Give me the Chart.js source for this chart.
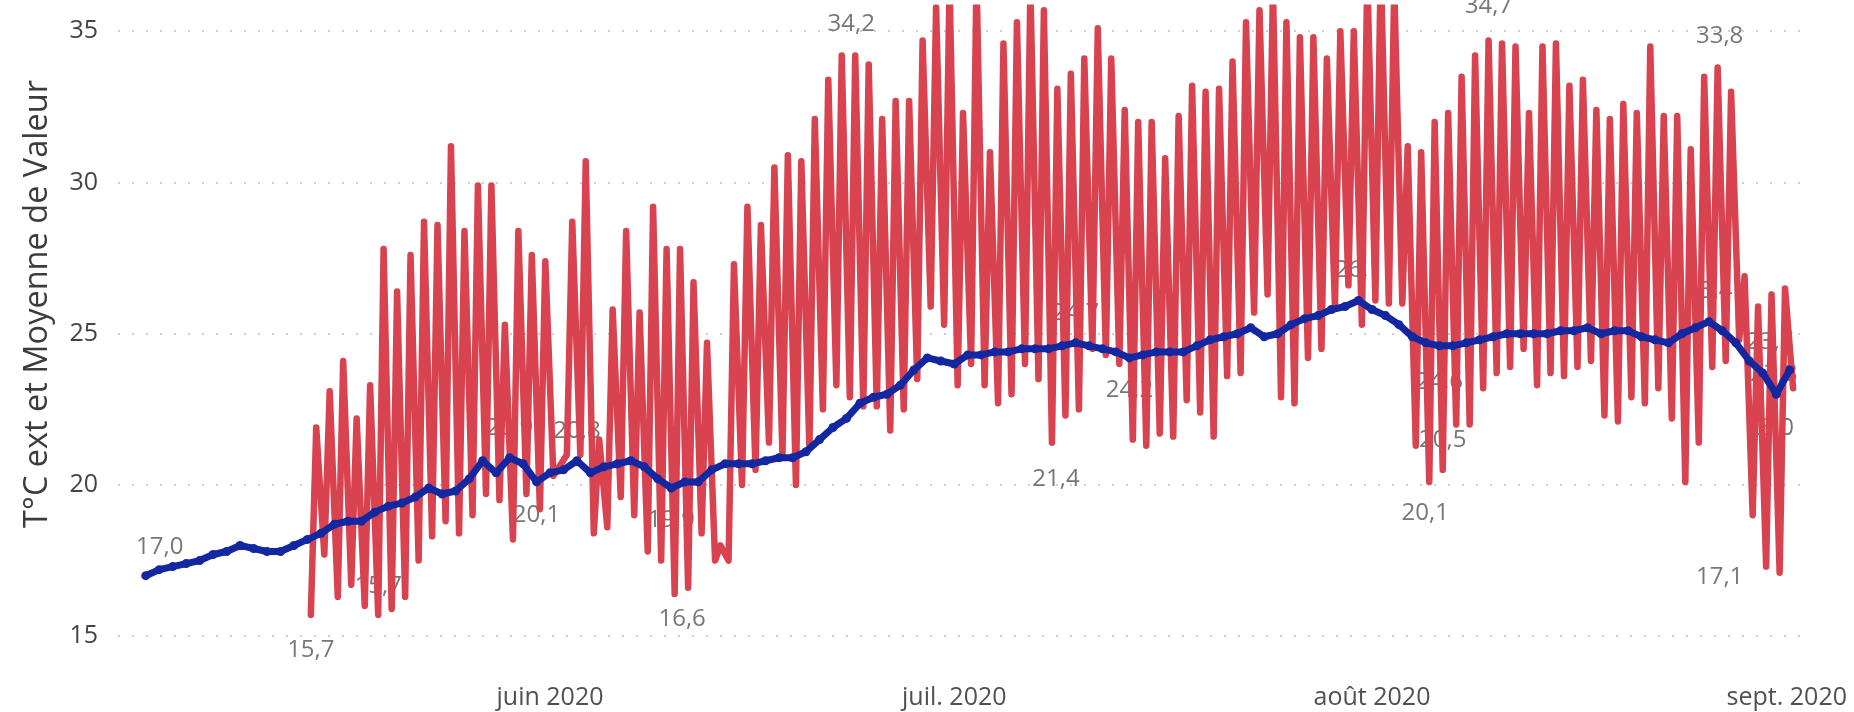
<!DOCTYPE html>
<html>
<head>
<meta charset="utf-8">
<script src="https://cdn.jsdelivr.net/npm/chart.js@4.4.0/dist/chart.umd.min.js"></script>
<style>
html,body{margin:0;padding:0;background:#fff;overflow:hidden}
#wrap{width:1854px;height:712px;position:relative}
</style>
</head>
<body>
<div id="wrap"><canvas id="c" width="1854" height="712"></canvas></div>
<script>
// ---------- DATA ----------
// x axis: days counted from 1 May 2020 (day 0 = 1 May 00:00)
const monthTickDays = [31, 61, 92, 123];
const monthLabels = ['juin 2020', 'juil. 2020', 'août 2020', 'sept. 2020'];
const yTickValues = [15, 20, 25, 30, 35];
const yTitle = 'T°C ext et Moyenne de Valeur';

// "Moyenne de Valeur" : one value per day, starting day 1
const blueStartDay = 1;
const blueValues = [
  17.0,17.2,17.3,17.4,17.5,17.7,17.8,18.0,17.9,17.8,
  17.8,18.0,18.2,18.4,18.7,18.8,18.8,19.1,19.3,19.4,
  19.6,19.9,19.7,19.8,20.2,20.8,20.4,20.9,20.7,20.1,
  20.4,20.5,20.8,20.4,20.6,20.7,20.8,20.6,20.2,19.9,
  20.1,20.1,20.5,20.7,20.7,20.7,20.8,20.9,20.9,21.1,
  21.5,21.9,22.2,22.7,22.9,23.0,23.3,23.8,24.2,24.1,
  24.0,24.3,24.3,24.4,24.4,24.5,24.5,24.5,24.6,24.7,
  24.6,24.5,24.4,24.2,24.3,24.4,24.4,24.4,24.6,24.8,
  24.9,25.0,25.2,24.9,25.0,25.3,25.5,25.6,25.8,25.9,
  26.1,25.8,25.6,25.3,24.9,24.7,24.6,24.6,24.7,24.8,
  24.9,25.0,25.0,25.0,25.0,25.1,25.1,25.2,25.0,25.1,
  25.1,24.9,24.8,24.7,25.0,25.2,25.4,25.1,24.7,24.1,
  23.7,23.0,23.8
];

// "T°C ext" : daily minimum (early morning) and maximum (afternoon), starting day 13
const redStartDay = 13;
const redMin = [
  15.7,17.7,16.3,16.7,16.0,15.7,15.9,16.3,17.5,18.3,
  18.8,18.4,19.0,19.7,19.5,18.2,19.7,19.2,20.3,21.0,
  21.0,18.4,18.6,19.6,19.0,17.8,17.5,16.4,16.6,18.4,
  17.5,17.5,20.0,20.5,21.4,21.0,20.0,21.2,22.5,23.3,
  22.9,22.6,22.6,21.8,22.5,23.5,25.9,25.3,23.3,24.0,
  23.3,22.7,23.0,24.0,23.5,21.4,22.3,22.5,24.5,24.3,
  24.0,21.5,21.3,21.7,21.6,22.8,22.4,21.6,23.6,23.7,
  25.7,26.3,22.9,22.7,24.2,24.5,25.9,26.6,25.3,26.1,
  26.0,26.0,21.3,20.1,20.5,22.0,22.0,23.2,23.7,23.9,
  24.5,23.3,23.7,23.6,23.9,24.1,22.3,22.1,22.9,22.7,
  23.2,22.2,20.1,21.4,23.9,24.1,24.8,19.0,17.3,17.1,
  23.2
];
const redMax = [
  21.9,23.1,24.1,22.2,23.3,27.8,26.4,27.6,28.7,28.6,
  31.2,28.4,29.9,29.9,25.3,28.4,27.6,27.4,null,28.7,
  30.7,21.5,25.8,28.4,25.7,29.2,27.8,27.8,26.7,24.7,
  18.0,27.3,29.2,28.6,30.5,30.9,30.7,32.1,33.4,34.2,
  34.2,33.9,32.1,32.7,32.7,34.7,35.8,36.6,32.3,36.8,
  31.0,34.6,35.3,36.5,35.7,33.1,33.6,34.1,35.1,34.1,
  32.4,32.0,32.0,30.8,32.2,33.2,33.0,33.1,34.0,35.3,
  35.7,36.4,35.3,34.8,34.8,34.1,35.0,35.0,36.9,37.2,
  36.5,31.2,31.0,32.0,32.3,33.5,34.2,34.7,34.6,34.5,
  32.3,34.5,34.6,33.2,33.4,32.4,32.1,32.6,32.3,34.5,
  32.2,32.2,31.1,33.5,33.8,33.0,26.9,25.9,26.3,26.5,
  null
];
const MIN_HOUR = 6;
const MAX_HOUR = 15.6;

// ---------- LABEL PLACEMENT (which points carry a data label) ----------
const labelSpecs = [
  {s:'blue', day:1,   dx:14, dy:-29},
  {s:'blue', day:28,  dx:0,  dy:-30},
  {s:'blue', day:30,  dx:0,  dy:33},
  {s:'blue', day:33,  dx:0,  dy:-30},
  {s:'blue', day:40,  dx:0,  dy:32},
  {s:'blue', day:70,  dx:0,  dy:-30},
  {s:'blue', day:74,  dx:0,  dy:32},
  {s:'blue', day:91,  dx:0,  dy:-30},
  {s:'blue', day:97,  dx:0,  dy:36},
  {s:'blue', day:117, dx:0,  dy:-30},
  {s:'blue', day:121, dx:7,  dy:-31},
  {s:'blue', day:122, dx:-6, dy:34},
  {s:'blue', day:123, dx:-16,dy:4},
  {s:'red', day:13,  kind:'min', dx:0,  dy:35},
  {s:'red', day:18,  kind:'min', dx:0,  dy:-29},
  {s:'red', day:41,  kind:'min', dx:-6, dy:31},
  {s:'red', day:53,  kind:'max', dx:-4, dy:-31},
  {s:'red', day:68,  kind:'min', dx:4,  dy:37},
  {s:'red', day:96,  kind:'min', dx:-4, dy:31},
  {s:'red', day:97,  kind:'min', dx:0,  dy:-30},
  {s:'red', day:100, kind:'max', dx:0,  dy:-34},
  {s:'red', day:117, kind:'max', dx:2,  dy:-31},
  {s:'red', day:122, kind:'min', dx:-60,dy:4}
];

// ---------- BUILD SERIES ----------
const bluePoints = blueValues.map((v, i) => ({x: blueStartDay + i, y: v, day: blueStartDay + i}));
const redPoints = [];
redMin.forEach((v, i) => {
  const d = redStartDay + i;
  if (v !== null) redPoints.push({x: d + MIN_HOUR / 24, y: v, day: d, kind: 'min'});
  const m = redMax[i];
  if (m !== null) redPoints.push({x: d + MAX_HOUR / 24, y: m, day: d, kind: 'max'});
});

const FONT = '"Open Sans", "Noto Sans", sans-serif';
const RED = '#D8434F';
const BLUE = '#1327A0';

const fmt = v => v.toFixed(1).replace('.', ',');

const dataLabelPlugin = {
  id: 'dataLabels',
  beforeDatasetsDraw(chart) {
    const ctx = chart.ctx;
    ctx.save();
    ctx.font = '24px ' + FONT;
    ctx.fillStyle = '#777777';
    ctx.textAlign = 'center';
    ctx.textBaseline = 'middle';
    labelSpecs.forEach(sp => {
      const dsIndex = sp.s === 'blue' ? 0 : 1;
      const ds = chart.data.datasets[dsIndex];
      const idx = ds.data.findIndex(p => p.day === sp.day && (sp.s === 'blue' || p.kind === sp.kind));
      if (idx < 0) return;
      const el = chart.getDatasetMeta(dsIndex).data[idx];
      ctx.fillText(fmt(ds.data[idx].y), el.x + (sp.dx || 0), el.y + (sp.dy || 0));
    });
    ctx.restore();
  }
};

const axisTextPlugin = {
  id: 'axisText',
  afterDraw(chart) {
    const ctx = chart.ctx;
    const xs = chart.scales.x;
    const ys = chart.scales.y;
    ctx.save();
    ctx.textBaseline = 'middle';
    // x tick labels (month starts)
    ctx.font = '25px ' + FONT;
    ctx.fillStyle = '#505050';
    ctx.textAlign = 'center';
    monthTickDays.forEach((d, i) => {
      const w = ctx.measureText(monthLabels[i]).width;
      let x = xs.getPixelForValue(d);
      x = Math.min(x, chart.width - 7 - w / 2);
      ctx.fillText(monthLabels[i], x, 698);
    });
    // y tick labels
    ctx.fillStyle = '#444444';
    ctx.textAlign = 'right';
    yTickValues.forEach(v => {
      ctx.fillText(String(v), ys.right - 20, ys.getPixelForValue(v));
    });
    // y axis title
    ctx.textAlign = 'center';
    ctx.translate(38, 304);
    ctx.rotate(-Math.PI / 2);
    ctx.font = '32.5px ' + FONT;
    ctx.fillStyle = '#3c3c3c';
    ctx.fillText(yTitle, 0, 0);
    ctx.restore();
  }
};

function draw() {
  new Chart(document.getElementById('c'), {
    type: 'line',
    data: {
      datasets: [
        {
          label: 'Moyenne de Valeur',
          data: bluePoints,
          borderColor: BLUE,
          backgroundColor: BLUE,
          borderWidth: 7,
          pointRadius: 4.5,
          pointBorderWidth: 0,
          pointBackgroundColor: BLUE,
          tension: 0,
          borderJoinStyle: 'round',
          borderCapStyle: 'round'
        },
        {
          label: 'T°C ext',
          data: redPoints,
          borderColor: RED,
          backgroundColor: RED,
          borderWidth: 6.5,
          pointRadius: 0,
          tension: 0,
          borderJoinStyle: 'round',
          borderCapStyle: 'round'
        }
      ]
    },
    options: {
      responsive: false,
      animation: false,
      devicePixelRatio: 1,
      layout: {padding: {top: 0, right: 45, bottom: 0, left: 0}},
      plugins: {legend: {display: false}, tooltip: {enabled: false}},
      scales: {
        x: {
          type: 'linear',
          min: -1.06,
          max: 124.43,
          ticks: {display: false},
          grid: {display: false},
          border: {display: false},
          afterFit: s => { s.height = 50; }
        },
        y: {
          type: 'linear',
          min: 14.146,
          max: 35.887,
          afterBuildTicks: s => { s.ticks = yTickValues.map(v => ({value: v})); },
          afterFit: s => { s.width = 118; },
          ticks: {display: false},
          grid: {color: '#cfcfcf', lineWidth: 2, drawTicks: false},
          border: {display: false, dash: [2, 12]}
        }
      }
    },
    plugins: [dataLabelPlugin, axisTextPlugin]
  });
}

if (document.fonts && document.fonts.load) {
  Promise.all([document.fonts.load('25px "Open Sans"'), document.fonts.load('32px "Open Sans"')])
    .then(draw, draw);
} else {
  draw();
}
</script>
</body>
</html>
